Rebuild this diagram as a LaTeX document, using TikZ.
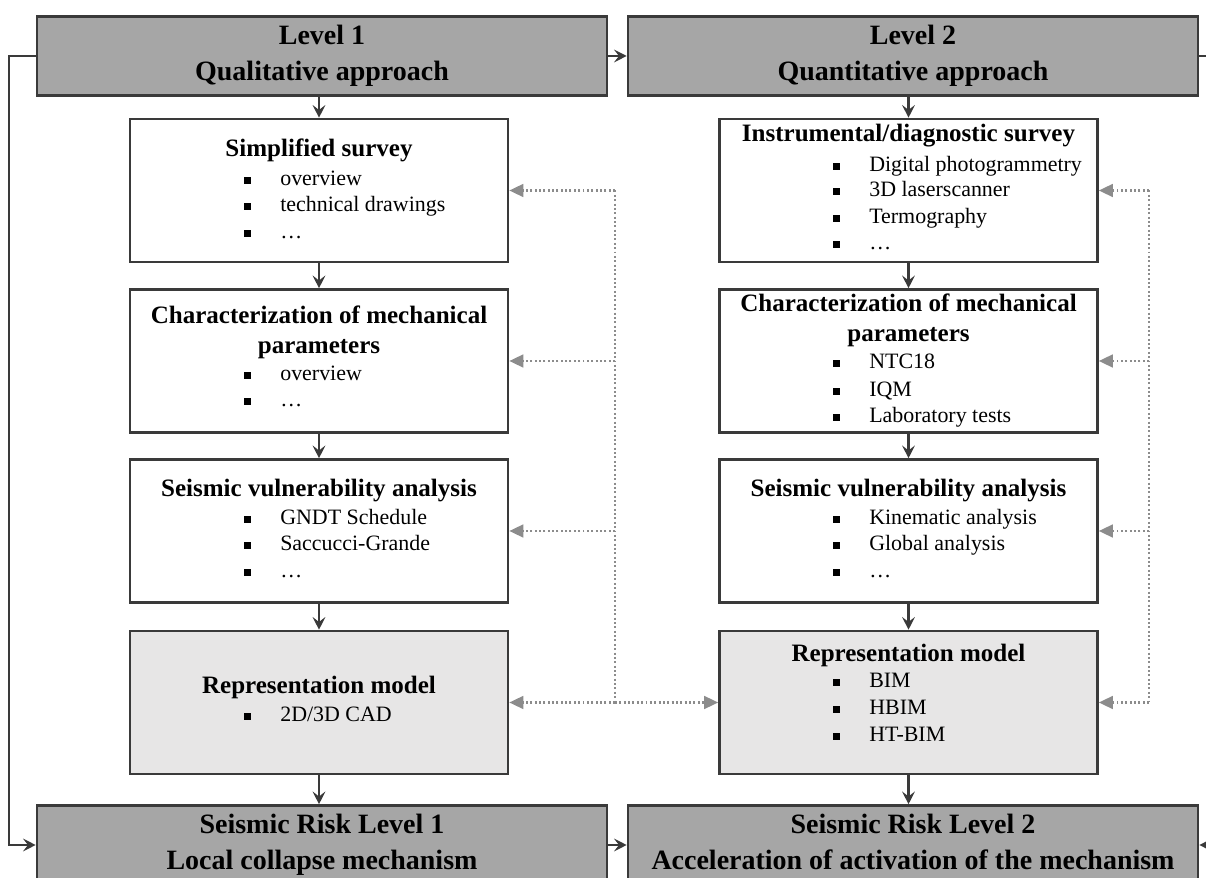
\documentclass[tikz,border=0pt]{standalone}
\usepackage{fontspec}
\setmainfont{Liberation Serif}
\usetikzlibrary{arrows.meta, positioning}

\definecolor{lvlgray}{HTML}{A6A6A6}
\definecolor{repgray}{HTML}{E7E6E6}
\definecolor{edgegray}{HTML}{3A3A3A}
\definecolor{dotgray}{HTML}{8C8C8C}

\begin{document}
\begin{tikzpicture}[x=0.025cm, y=-0.025cm,
  sz/.style 2 args={minimum width=#1*0.025cm, minimum height=#2*0.025cm},
  box/.style={draw=edgegray, line width=1.8pt, fill=white, inner sep=0pt, sz={378}{143}},
  lvl/.style={draw=edgegray, line width=1.8pt, fill=lvlgray, sz={570}{79}, align=center,
    font=\bfseries\fontsize{19.9}{25.6}\selectfont},
  ttl/.style={anchor=mid, inner sep=0pt, font=\bfseries\fontsize{17.8}{21.3}\selectfont},
  item/.style={anchor=mid west, inner sep=0pt, font=\fontsize{15.6}{18.5}\selectfont},
  flow/.style={draw=edgegray, line width=1.6pt, -{Stealth[length=9pt, width=9pt, inset=3.5pt]}},
  link/.style={draw=dotgray, line width=1.8pt, dash pattern=on 1.4pt off 1.7pt},
  linkto/.style={link, -{Triangle[length=10pt, width=9pt]}}
]
  \useasboundingbox (0,0) rectangle (1206,878);
  \clip (0,0) rectangle (1206,878);

  % level and risk boxes
  \node[lvl] (L1) at (322,56) {Level 1\\Qualitative approach};
  \node[lvl] (L2) at (913,56) {Level 2\\Quantitative approach};
  \node[lvl] (R1) at (322,845) {Seismic Risk Level 1\\Local collapse mechanism};
  \node[lvl] (R2) at (913,845) {Seismic Risk Level 2\\Acceleration of activation of the mechanism\vphantom{p}};

  % column boxes
  \foreach \n/\x/\y in {ss/319/190.5, cm/319/361, sv/319/531, is/908.5/190.5, cp/908.5/361, va/908.5/531}
    \node[box] (\n) at (\x,\y) {};
  \node[box, fill=repgray] (rm) at (319,702.5) {};
  \node[box, fill=repgray] (bm) at (908.5,702.5) {};

  % titles
  \node[ttl] (ss-t) at (319,153) {Simplified survey};
  \node[ttl] (cm-t1) at (319,320) {Characterization of mechanical};
  \node[ttl] (cm-t2) at (319,350) {parameters};
  \node[ttl] (sv-t) at (319,493) {Seismic vulnerability analysis};
  \node[ttl] (rm-t) at (319,690) {Representation model};
  \node[ttl] (is-t) at (908.5,138) {Instrumental/diagnostic survey};
  \node[ttl] (cp-t1) at (908.5,308) {Characterization of mechanical};
  \node[ttl] (cp-t2) at (908.5,338) {parameters};
  \node[ttl] (va-t) at (908.5,493) {Seismic vulnerability analysis};
  \node[ttl] (bm-t) at (908.5,658) {Representation model};

  % bullet items, left column
  \foreach \y/\t [count=\i] in {182/overview, 208/technical drawings, 235/\dots} {
    \fill (243.5,\y-4.5) rectangle (250.5,\y+2.5);
    \node[item] (ss-\i) at (280,\y) {\t};
  }
  \foreach \y/\t [count=\i] in {377/overview, 403/\dots} {
    \fill (243.5,\y-4.5) rectangle (250.5,\y+2.5);
    \node[item] (cm-\i) at (280,\y) {\t};
  }
  \foreach \y/\t [count=\i] in {521/GNDT Schedule, 547/Saccucci-Grande, 574/\dots} {
    \fill (243.5,\y-4.5) rectangle (250.5,\y+2.5);
    \node[item] (sv-\i) at (280,\y) {\t};
  }
  \foreach \y/\t [count=\i] in {718/{2D/3D CAD}} {
    \fill (243.5,\y-4.5) rectangle (250.5,\y+2.5);
    \node[item] (rm-\i) at (280,\y) {\t};
  }

  % bullet items, right column
  \foreach \y/\t [count=\i] in {168/Digital photogrammetry, 193/3D laserscanner, 220/Termography, 246/\dots} {
    \fill (833,\y-4.5) rectangle (840,\y+2.5);
    \node[item] (is-\i) at (869,\y) {\t};
  }
  \foreach \y/\t [count=\i] in {365/NTC18, 393/IQM, 419/Laboratory tests} {
    \fill (833,\y-4.5) rectangle (840,\y+2.5);
    \node[item] (cp-\i) at (869,\y) {\t};
  }
  \foreach \y/\t [count=\i] in {521/Kinematic analysis, 547/Global analysis, 574/\dots} {
    \fill (833,\y-4.5) rectangle (840,\y+2.5);
    \node[item] (va-\i) at (869,\y) {\t};
  }
  \foreach \y/\t [count=\i] in {684/BIM, 711/HBIM, 738/HT-BIM} {
    \fill (833,\y-4.5) rectangle (840,\y+2.5);
    \node[item] (bm-\i) at (869,\y) {\t};
  }

  % main flow
  \draw[flow] (L1.south -| ss.north) -- (ss.north);
  \draw[flow] (ss) -- (cm);
  \draw[flow] (cm) -- (sv);
  \draw[flow] (sv) -- (rm);
  \draw[flow] (rm.south) -- (rm.south |- R1.north);
  \draw[flow] (L2.south -| is.north) -- (is.north);
  \draw[flow] (is) -- (cp);
  \draw[flow] (cp) -- (va);
  \draw[flow] (va) -- (bm);
  \draw[flow] (bm.south) -- (bm.south |- R2.north);
  \draw[flow] (L1) -- (L2);
  \draw[flow] (R1) -- (R2);

  % outer loops
  \coordinate (lbend) at (9,56);
  \coordinate (rbend) at (1230,56);
  \draw[flow] (L1.west) -- (lbend) |- (R1.west);
  \draw[flow] (L2.east) -- (rbend) |- (R2.east);

  % dotted feedback links
  \coordinate (lt) at (615,190.5);
  \coordinate (lb) at (615,702.5);
  \coordinate (rt) at (1149,190.5);
  \coordinate (rb) at (1149,702.5);
  \draw[link] (lt) -- (lb);
  \draw[link] (rt) -- (rb);
  \foreach \n in {ss,cm,sv,rm}
    \draw[linkto] (lt |- \n.east) -- (\n.east);
  \draw[linkto] (lb) -- (bm.west);
  \foreach \n in {is,cp,va,bm}
    \draw[linkto] (rt |- \n.east) -- (\n.east);
\end{tikzpicture}
\end{document}
